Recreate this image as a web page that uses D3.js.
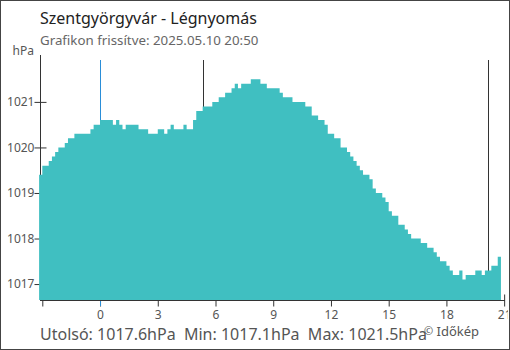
<!DOCTYPE html>
<html>
<head>
<meta charset="utf-8">
<script src="https://cdn.jsdelivr.net/npm/d3@7"></script>
<style>
  body { margin: 0; background: #fff; }
  svg { display: block; font-family: "Noto Sans", sans-serif; }
  text { white-space: pre; }
</style>
</head>
<body>
<div id="chart"></div>
<script>
// pressure readings, every 10 minutes from 20:50 (previous day) to 20:40
var pressure = [
  1019.4, 1019.6, 1019.6, 1019.7, 1019.8, 1019.9, 1020.0, 1020.0, 1020.1, 1020.2,
  1020.2, 1020.3, 1020.3, 1020.3, 1020.3, 1020.3, 1020.4, 1020.5, 1020.5, 1020.6,
  1020.6, 1020.6, 1020.6, 1020.5, 1020.6, 1020.5, 1020.4, 1020.5, 1020.5, 1020.5,
  1020.5, 1020.4, 1020.4, 1020.4, 1020.3, 1020.3, 1020.3, 1020.4, 1020.4, 1020.3,
  1020.4, 1020.5, 1020.4, 1020.4, 1020.4, 1020.5, 1020.4, 1020.4, 1020.6, 1020.8,
  1020.8, 1020.9, 1020.9, 1020.9, 1021.0, 1021.0, 1021.1, 1021.1, 1021.2, 1021.2,
  1021.3, 1021.4, 1021.3, 1021.4, 1021.4, 1021.4, 1021.5, 1021.5, 1021.5, 1021.4,
  1021.4, 1021.3, 1021.3, 1021.3, 1021.3, 1021.2, 1021.1, 1021.1, 1021.1, 1021.0,
  1021.0, 1021.0, 1021.0, 1020.9, 1020.9, 1020.7, 1020.7, 1020.6, 1020.6, 1020.5,
  1020.3, 1020.3, 1020.2, 1020.2, 1020.0, 1020.0, 1019.9, 1019.8, 1019.7, 1019.6,
  1019.5, 1019.4, 1019.4, 1019.3, 1019.1, 1019.0, 1019.0, 1018.9, 1018.8, 1018.6,
  1018.5, 1018.5, 1018.3, 1018.3, 1018.2, 1018.1, 1018.0, 1018.0, 1018.0, 1017.9,
  1017.9, 1017.8, 1017.8, 1017.7, 1017.6, 1017.5, 1017.5, 1017.4, 1017.3, 1017.2,
  1017.2, 1017.3, 1017.1, 1017.2, 1017.2, 1017.2, 1017.3, 1017.3, 1017.2, 1017.3,
  1017.3, 1017.4, 1017.4, 1017.6
];
var firstHour = -(3 + 10 / 60);   // 20:50 the day before, in hours from midnight
var stepMinutes = 10;

var xTicks = [-3, 0, 3, 6, 9, 12, 15, 18, 21];
var xTickLabels = ["", "0", "3", "6", "9", "12", "15", "18", "21"];
var yTicks = [1017, 1018, 1019, 1020, 1021];

var midnight = 0;
var sunrise = 5 + 22 / 60;
var sunset = 20 + 11 / 60;

var title = "Szentgyörgyvár - Légnyomás";
var subtitle = "Grafikon frissítve: 2025.05.10 20:50";
var summary = "Utolsó: 1017.6hPa  Min: 1017.1hPa  Max: 1021.5hPa";

var width = 510, height = 350;
var margin = {left: 40, right: 508, top: 55, bottom: 300};

var svg = d3.select("#chart").append("svg")
    .attr("width", width)
    .attr("height", height);

var x = d3.scaleLinear().domain([-3.12, 21.2]).range([margin.left, margin.right]);
var y = d3.scaleLinear().domain([1016.65, 1022.03]).range([margin.bottom, margin.top]);

var points = pressure.map(function (v, i) {
    return { t: firstHour + i * stepMinutes / 60, v: v };
});
points.push({ t: firstHour + pressure.length * stepMinutes / 60, v: pressure[pressure.length - 1] });

svg.append("defs").append("clipPath").attr("id", "clip")
  .append("rect").attr("x", 0).attr("y", 0).attr("width", 508).attr("height", height);

var g = svg.append("g").attr("clip-path", "url(#clip)");

// y axis, ticks cross the axis line
var yAxis = g.append("g")
    .attr("transform", "translate(" + (margin.left + 0.5) + ",0)")
    .call(d3.axisLeft(y).tickValues(yTicks).tickSize(6).tickSizeOuter(0).tickFormat(d3.format("d")));
yAxis.select(".domain").remove();
yAxis.selectAll(".tick line").attr("x1", 6).attr("x2", -6).attr("stroke", "#333");
yAxis.selectAll(".tick text").attr("x", -6).attr("fill", "#555")
    .style("font-size", "12px").style("font-family", "Noto Sans");
g.append("line")
    .attr("x1", margin.left + 0.5).attr("x2", margin.left + 0.5)
    .attr("y1", margin.top).attr("y2", margin.bottom + 1)
    .attr("stroke", "#333");

// sunrise / sunset markers
g.selectAll(".sun").data([sunrise, sunset]).enter().append("line")
    .attr("x1", function (d) { return Math.round(x(d)) + 0.5; })
    .attr("x2", function (d) { return Math.round(x(d)) + 0.5; })
    .attr("y1", 60).attr("y2", margin.bottom)
    .attr("stroke", "#333");

// x axis ticks (drawn before the area so the inner part is hidden)
var xAxis = g.append("g")
    .attr("transform", "translate(0," + (margin.bottom + 0.5) + ")")
    .call(d3.axisBottom(x).tickValues(xTicks).tickSize(6).tickSizeOuter(0)
        .tickFormat(function (d, i) { return xTickLabels[i]; }));
xAxis.select(".domain").remove();
xAxis.selectAll(".tick line").attr("y1", -6).attr("y2", 6).attr("stroke", "#333");
xAxis.selectAll(".tick text").attr("y", 10).attr("fill", "#555")
    .style("font-size", "12px").style("font-family", "Noto Sans");

// midnight marker, behind the area
g.append("line")
    .attr("x1", Math.round(x(midnight)) + 0.5).attr("x2", Math.round(x(midnight)) + 0.5)
    .attr("y1", 60).attr("y2", margin.bottom + 6)
    .attr("stroke", "#2a8ed8");

// pressure area
var area = d3.area()
    .curve(d3.curveStepAfter)
    .x(function (d) { return x(d.t); })
    .y0(margin.bottom)
    .y1(function (d) { return y(d.v); });

g.append("path")
    .datum(points)
    .attr("d", area)
    .attr("fill", "#40bfc1");

g.append("line")
    .attr("x1", margin.left).attr("x2", 505)
    .attr("y1", margin.bottom + 0.5).attr("y2", margin.bottom + 0.5)
    .attr("stroke", "#333");

// texts
svg.append("text").attr("x", 40).attr("y", 24)
    .attr("fill", "#222").style("font-size", "16px").text(title);
svg.append("text").attr("x", 40).attr("y", 45)
    .attr("fill", "#666").style("font-size", "13.3px").text(subtitle);
svg.append("text").attr("x", 34).attr("y", 55).attr("text-anchor", "end")
    .attr("fill", "#555").style("font-size", "12px").text("hPa");
svg.append("text").attr("x", 40).attr("y", 340)
    .attr("fill", "#555").style("font-size", "16px").text(summary);
var copy = svg.append("text").attr("x", 424).attr("y", 336)
    .attr("fill", "#555").style("font-size", "13px");
copy.append("tspan").style("font-size", "11px").attr("dy", -1).text("©");
copy.append("tspan").attr("dy", 1).text(" Időkép");

// outer frame
svg.append("rect")
    .attr("x", 0.5).attr("y", 0.5)
    .attr("width", width - 1).attr("height", height - 1)
    .attr("fill", "none").attr("stroke", "#444");
</script>
</body>
</html>
